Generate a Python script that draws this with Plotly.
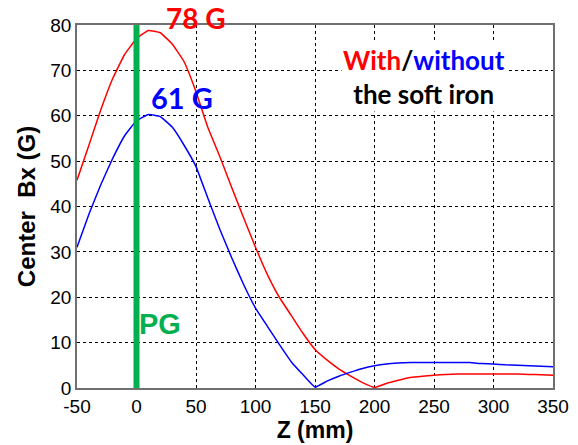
import plotly.graph_objects as go

z = [-50, -40, -30, -20, -10, 0, 10, 20, 30, 40, 50, 60, 70, 80, 90, 100, 110, 120, 130, 140,
     150, 160, 170, 180, 190, 200, 210, 220, 230, 240, 250, 260, 270, 280, 290, 300, 310, 320,
     330, 340, 350]
bx_with = [45.8, 53.5, 61.3, 68.2, 73.5, 77.0, 78.8, 78.3, 75.8, 71.9, 65.3, 57.4, 51.0, 44.2,
           37.5, 31.0, 25.0, 20.0, 16.0, 12.0, 8.5, 6.2, 4.2, 2.6, 1.2, 0.1, 1.0, 1.7, 2.3, 2.6,
           2.8, 3.0, 3.1, 3.1, 3.1, 3.1, 3.1, 3.1, 3.0, 2.9, 2.8]
bx_without = [31.0, 38.3, 44.8, 50.6, 55.6, 58.9, 60.3, 59.8, 57.5, 53.5, 48.8, 41.8, 35.0,
              28.7, 22.8, 17.6, 13.6, 9.6, 5.8, 2.9, 0.2, 1.5, 2.6, 3.5, 4.3, 4.9, 5.3, 5.5,
              5.6, 5.6, 5.6, 5.6, 5.6, 5.6, 5.4, 5.3, 5.1, 5.0, 4.9, 4.8, 4.7]
pg_z = [0, 0]
pg_y = [0, 80]
x_ticks = [-50, 0, 50, 100, 150, 200, 250, 300, 350]
x_labels = ["-50", "0", "50", "100", "150", "200", "250", "300", "350"]
y_ticks = [0, 10, 20, 30, 40, 50, 60, 70, 80]

fig = go.Figure()
fig.add_trace(go.Scatter(x=z, y=bx_with, mode="lines", line=dict(color="#FF0000", width=1.5, shape="spline", smoothing=0.3)))
fig.add_trace(go.Scatter(x=z, y=bx_without, mode="lines", line=dict(color="#0000FF", width=1.5, shape="spline", smoothing=0.3)))
fig.add_trace(go.Scatter(x=pg_z, y=pg_y, mode="lines", line=dict(color="#00B050", width=6)))

lab_font = "Lato, 'Open Sans', sans-serif"
fig.add_annotation(x=50, xref="x", y=1.0, yref="paper", yanchor="bottom", xanchor="center", yshift=-12,
                   text="<b>78 G</b>", showarrow=False, font=dict(color="#FF0000", size=28, family=lab_font))
fig.add_annotation(x=38, y=64.0, text="<b>61 G</b>", showarrow=False, font=dict(color="#0000FF", size=29, family=lab_font))
fig.add_annotation(x=20, y=14, text="<b>PG</b>", showarrow=False,
                   font=dict(color="#00B050", size=29, family="Arial, 'Liberation Sans', sans-serif"))
fig.add_annotation(x=242, y=68.5, text="<b><span style='color:#FF0000'>With</span>/<span style='color:#0000FF'>without</span><br>the soft iron</b>",
                   showarrow=False, bgcolor="white", font=dict(color="black", size=26, family=lab_font))

# page body adds an 8px offset; margins compensate so the plot area lands at x 77-553, y 25-388
fig.update_layout(
    width=578, height=445,
    margin=dict(l=69, r=33, t=17, b=65),
    paper_bgcolor="white", plot_bgcolor="white",
    showlegend=False,
    font=dict(family="Arial, 'Liberation Sans', sans-serif", color="black", size=19),
)
fig.update_xaxes(range=[-50, 350], tickvals=x_ticks, ticktext=x_labels, showgrid=True, gridcolor="black", griddash="dot", gridwidth=1,
                 showline=True, linecolor="#707070", linewidth=1.5, mirror=True, zeroline=False, ticks="", automargin=False,
                 title=dict(text="<b>Z (mm)</b>", font=dict(size=23), standoff=6))
fig.update_yaxes(range=[0, 80], tickvals=y_ticks, showgrid=True, gridcolor="black", griddash="dot", gridwidth=1,
                 showline=True, linecolor="#707070", linewidth=1.5, mirror=True, zeroline=False, ticks="", automargin=False,
                 title=dict(text="<b>Center\u00a0\u00a0Bx (G)</b>", font=dict(size=24), standoff=8))

fig.write_html("out.html")
